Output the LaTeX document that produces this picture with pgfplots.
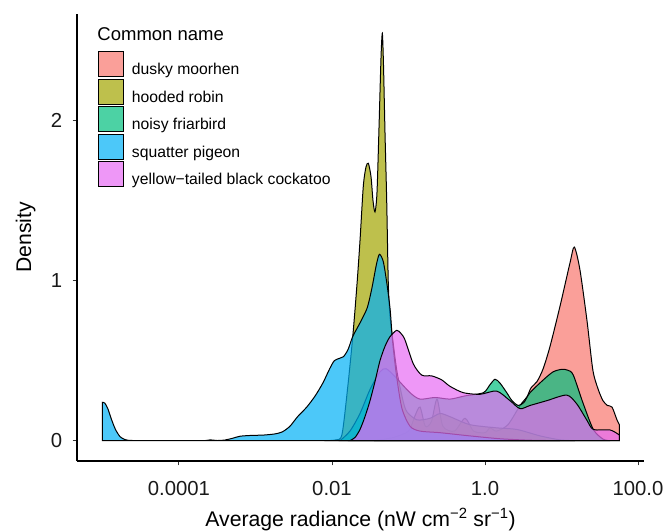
\documentclass[border=0pt]{standalone}
\usepackage{fontspec}
\setmainfont{Liberation Sans}
\usepackage{pgfplots}
\pgfplotsset{compat=1.18}
\definecolor{cmoor}{HTML}{F8766D}
\definecolor{crobin}{HTML}{A3A500}
\definecolor{cfriar}{HTML}{00BF7D}
\definecolor{cpigeon}{HTML}{00B0F6}
\definecolor{ccock}{HTML}{E76BF3}

\begin{document}
\begin{tikzpicture}
\begin{axis}[
  name=ax, at={(0,0)}, anchor=south west,
  scale only axis, width=567bp, height=447bp,
  xmin=-5.333, xmax=2.078, ymin=-0.127, ymax=2.667,
  axis x line*=bottom, axis y line*=left,
  axis line style={-, black, line width=1.1bp},
  xtick={-4,-2,0,2}, xticklabels={0.0001,0.01,1.0,100.0},
  ytick={0,1,2}, yticklabels={0,1,2},
  tick align=outside, major tick length=4.3bp,
  tick style={black!80, line width=1bp},
  /pgf/number format/assume math mode=true,
  ticklabel style={font=\fontsize{20.3bp}{24bp}\selectfont, text=black!90},
  xticklabel style={anchor=base, inner sep=0pt, yshift=-29.7bp},
  yticklabel style={anchor=east, inner sep=0pt, xshift=-10.3bp},
  xlabel={Average radiance (nW cm\textsuperscript{−2} sr\textsuperscript{−1})},
  ylabel={Density},
  xlabel style={font=\fontsize{21.2bp}{25bp}\selectfont, at={(axis description cs:0.5,0)}, anchor=base, inner sep=0pt, yshift=-65bp},
  ylabel style={font=\fontsize{21.2bp}{25bp}\selectfont, at={(axis description cs:-0.0811,0.5)}, anchor=base, inner sep=0pt},
  legend style={at={(axis description cs:0.0379,0.9168)}, anchor=north west,
    draw=none, fill=none, inner sep=0pt, outer sep=0pt, row sep=1.5bp,
    font=\fontsize{15.7bp}{18bp}\selectfont, nodes={inner sep=0pt}},
  legend cell align=left,
  legend image code/.code={\draw[#1,draw=black,line width=1bp] (0bp,-6.7bp) rectangle (25bp,18.3bp);},
  /tikz/every odd column/.append style={column sep=7.5bp},
  every axis plot/.append style={smooth, tension=0.45, draw=black, line width=1bp, fill opacity=0.7},
]
% dusky moorhen
\addplot[fill=cmoor] coordinates {
 (-1.45,0) (-1.2,0.02) (-1.0,0.06) (-0.92,0.15) (-0.85,0.21) (-0.78,0.09)
 (-0.70,0.12) (-0.627,0.26) (-0.55,0.09) (-0.40,0.06) (-0.261,0.14) (-0.15,0.06)
 (0.0,0.05) (0.065,0.08) (0.15,0.06) (0.30,0.10) (0.458,0.22) (0.549,0.275)
 (0.601,0.33) (0.68,0.37) (0.76,0.45) (0.85,0.59) (0.98,0.84) (1.11,1.11)
 (1.167,1.21) (1.24,1.07) (1.333,0.75) (1.41,0.44) (1.48,0.32) (1.542,0.25)
 (1.60,0.22) (1.66,0.21) (1.725,0.13) (1.756,0.10)} \closedcycle;
\addlegendentry{dusky moorhen}
% hooded robin
\addplot[fill=crobin] coordinates {
 (-2.1,0) (-1.95,0.005) (-1.869,0.04) (-1.791,0.35) (-1.725,0.67) (-1.673,0.98)
 (-1.634,1.25) (-1.591,1.59) (-1.556,1.71) (-1.525,1.734) (-1.490,1.65) (-1.464,1.50)
 (-1.438,1.43) (-1.412,1.55) (-1.386,1.95) (-1.359,2.40) (-1.342,2.546) (-1.327,2.35)
 (-1.307,1.92) (-1.285,1.50) (-1.264,0.98) (-1.242,0.78) (-1.203,0.62) (-1.150,0.43)
 (-1.072,0.25) (-1.020,0.18) (-0.889,0.13) (-0.719,0.14) (-0.588,0.17) (-0.458,0.15)
 (-0.196,0.10) (0.157,0.08) (0.418,0.07) (0.719,0.03) (0.980,0.005) (1.176,0)} \closedcycle;
\addlegendentry{hooded robin}
% noisy friarbird
\addplot[fill=cfriar] coordinates {
 (-1.895,0) (-1.765,0.06) (-1.634,0.17) (-1.503,0.32) (-1.373,0.43) (-1.294,0.45)
 (-1.176,0.40) (-0.980,0.30) (-0.850,0.26) (-0.654,0.27) (-0.458,0.26) (-0.261,0.28)
 (-0.022,0.30) (0.065,0.35) (0.131,0.384) (0.196,0.36) (0.284,0.30) (0.353,0.25)
 (0.435,0.22) (0.510,0.24) (0.588,0.30) (0.762,0.38) (0.889,0.43) (1.003,0.446)
 (1.085,0.44) (1.154,0.41) (1.285,0.23) (1.416,0.07) (1.542,0.01) (1.634,0)} \closedcycle;
\addlegendentry{noisy friarbird}
% squatter pigeon
\addplot[fill=cpigeon] coordinates {
 (-5.0,0.24) (-4.97,0.235) (-4.93,0.20) (-4.88,0.13) (-4.83,0.07) (-4.77,0.025)
 (-4.70,0.006) (-4.6,0.001) (-4.2,0) (-3.7,0) (-3.59,0.005) (-3.5,0.001)
 (-3.40,0.004) (-3.3,0.015) (-3.2,0.028) (-3.05,0.033) (-2.9,0.035) (-2.75,0.042)
 (-2.65,0.055) (-2.55,0.09) (-2.45,0.15) (-2.33,0.21) (-2.22,0.28) (-2.12,0.36)
 (-2.03,0.45) (-1.97,0.50) (-1.90,0.515) (-1.85,0.525) (-1.79,0.57) (-1.73,0.65)
 (-1.63,0.74) (-1.54,0.83) (-1.48,0.95) (-1.42,1.10) (-1.38,1.165) (-1.33,1.12)
 (-1.285,0.99) (-1.24,0.82) (-1.21,0.63) (-1.155,0.40) (-1.085,0.20) (-0.98,0.09)
 (-0.85,0.06) (-0.59,0.05) (-0.20,0.03) (0.196,0.012) (0.59,0.003) (0.98,0)} \closedcycle;
\addlegendentry{squatter pigeon}
% yellow-tailed black cockatoo
\addplot[fill=ccock] coordinates {
 (-1.765,0) (-1.699,0.02) (-1.634,0.07) (-1.569,0.15) (-1.503,0.25) (-1.438,0.37)
 (-1.373,0.50) (-1.307,0.59) (-1.242,0.65) (-1.154,0.69) (-1.098,0.67) (-1.046,0.63)
 (-0.937,0.48) (-0.827,0.41) (-0.697,0.405) (-0.566,0.38) (-0.458,0.34) (-0.284,0.30)
 (-0.065,0.29) (0.153,0.31) (0.327,0.25) (0.458,0.20) (0.588,0.22) (0.807,0.25)
 (1.068,0.285) (1.199,0.23) (1.329,0.13) (1.416,0.07) (1.634,0.067) (1.742,0.04)
 (1.756,0.035)} \closedcycle;
\addlegendentry{yellow−tailed black cockatoo}
\node[anchor=base west, inner sep=0pt, font=\fontsize{18.5bp}{22bp}\selectfont]
  at (axis description cs:0.0358,0.9404) {Common name};
\end{axis}
\path ([xshift=-77bp,yshift=-71bp]ax.south west) rectangle ([xshift=20bp,yshift=14bp]ax.north east);
\end{tikzpicture}
\end{document}
